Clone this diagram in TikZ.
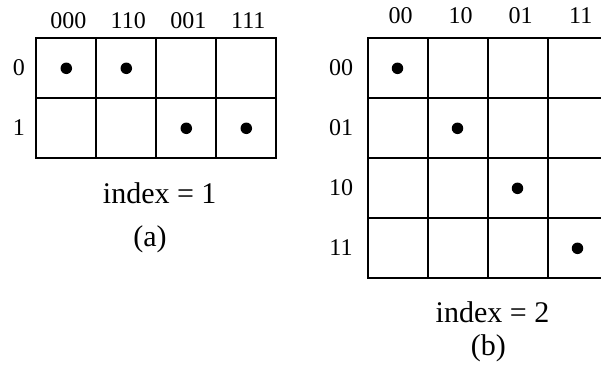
\documentclass[tikz,border=0pt]{standalone}
\usepackage{fontspec}
\setmainfont{Liberation Serif}

\begin{document}
\begin{tikzpicture}[x=0.5pt, y=-0.5pt,
  cell/.style={draw, line width=1pt, minimum size=30pt, inner sep=0pt,
    anchor=north west},
  blob/.style={circle, fill, inner sep=0pt, minimum size=5.75pt},
  lbl/.style={anchor=base, inner sep=0pt, font=\fontsize{12}{14}\selectfont},
  capt/.style={anchor=base, inner sep=0pt, font=\fontsize{15}{18}\selectfont}
]
\useasboundingbox (0,0) rectangle (601,376);

% (a) index = 1
\foreach \r in {0,1}
  \foreach \c in {0,...,3}
    \node[cell] (L-\r-\c) at (35.3+60*\c, 37.3+60*\r) {};
\foreach \t [count=\c from 0] in {000,110,001,111}
  \node[lbl] (Lcol-\c) at (68.3+60*\c, 28.5) {\t};
\foreach \t [count=\r from 0] in {0,1}
  \node[lbl] (Lrow-\r) at (18.8, 75+60*\r) {\t};
\foreach \r/\c in {0/0, 0/1, 1/2, 1/3}
  \node[blob] (Ldot-\r-\c) at (L-\r-\c.center) {};
\node[capt] (Lidx) at (159.7, 203.3) {index = 1};
\node[capt] (Lcap) at (150, 246) {(a)};

% (b) index = 2
\foreach \r in {0,...,3}
  \foreach \c in {0,...,3}
    \node[cell] (R-\r-\c) at (366.5+60*\c, 37.3+60*\r) {};
\foreach \t [count=\c from 0] in {00,10,01,11}
  \node[lbl] (Rcol-\c) at (400.7+60*\c, 23.5) {\t};
\foreach \t [count=\r from 0] in {00,01,10,11}
  \node[lbl] (Rrow-\r) at (341, 75+60*\r) {\t};
\foreach \r in {0,...,3}
  \node[blob] (Rdot-\r) at (R-\r-\r.center) {};
\node[capt] (Ridx) at (492.5, 322) {index = 2};
\node[capt] (Rcap) at (488.3, 355) {(b)};

\end{tikzpicture}
\end{document}
